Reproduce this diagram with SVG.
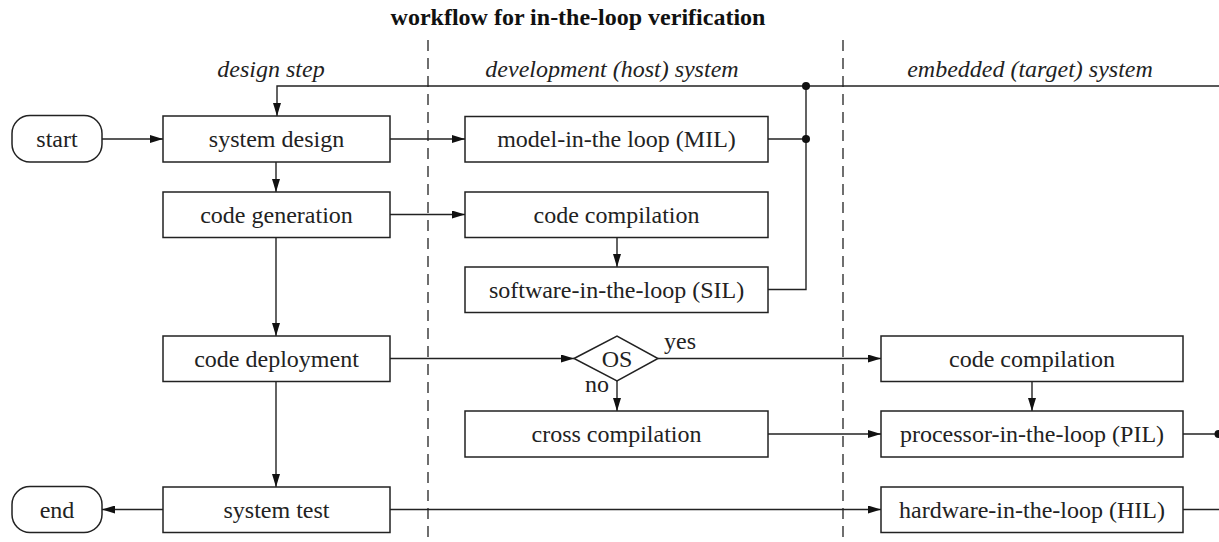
<svg xmlns="http://www.w3.org/2000/svg" width="1219" height="542" viewBox="0 0 1219 542">
  <style>
    .box { fill: #ffffff; stroke: #222222; stroke-width: 1.5; }
    .lbl { font-family: "Liberation Serif", "Times New Roman", serif; font-size: 24px; fill: #222222; text-anchor: middle; }
    .hdr { font-family: "Liberation Serif", "Times New Roman", serif; font-size: 24px; font-style: italic; fill: #222222; text-anchor: middle; }
    .title { font-family: "Liberation Serif", "Times New Roman", serif; font-size: 24px; font-weight: bold; fill: #111111; text-anchor: middle; }
    .lane { stroke: #222222; stroke-width: 1.3; stroke-dasharray: 11 7; fill: none; }
    .wire { stroke: #222222; stroke-width: 1.4; fill: none; }
    .arr { stroke: #222222; stroke-width: 1.4; fill: none; marker-end: url(#head); }
    .dot { fill: #111111; }
  </style>
  <defs>
    <marker id="head" viewBox="0 0 13 8" refX="13" refY="4" markerWidth="13" markerHeight="8" markerUnits="userSpaceOnUse" orient="auto">
      <path d="M0,0 L13,4 L0,8 Z" fill="#111111"/>
    </marker>
  </defs>

  <!-- title and swim-lane headers -->
  <text class="title" x="578" y="25">workflow for in-the-loop verification</text>
  <text class="hdr" x="271" y="77">design step</text>
  <text class="hdr" x="612" y="77">development (host) system</text>
  <text class="hdr" x="1030" y="77">embedded (target) system</text>

  <!-- lane separators -->
  <g id="lanes">
    <line class="lane" x1="428" y1="40" x2="428" y2="542"/>
    <line class="lane" x1="843" y1="40" x2="843" y2="542"/>
  </g>

  <!-- connectors -->
  <g id="connectors">
    <line class="arr" x1="102" y1="139" x2="163" y2="139"/>
    <line class="arr" x1="276" y1="162" x2="276" y2="192"/>
    <line class="arr" x1="276" y1="237.5" x2="276" y2="336"/>
    <line class="arr" x1="276" y1="381.5" x2="276" y2="487"/>
    <line class="arr" x1="163" y1="509.5" x2="102" y2="509.5"/>
    <line class="arr" x1="390" y1="139" x2="465" y2="139"/>
    <line class="arr" x1="390" y1="214.5" x2="465" y2="214.5"/>
    <line class="arr" x1="617" y1="237.5" x2="617" y2="267"/>
    <!-- feedback loop from MIL / SIL / PIL back to system design -->
    <polyline class="wire" points="768,139 806,139"/>
    <polyline class="wire" points="768,289.5 806,289.5 806,86"/>
    <line class="wire" x1="1219" y1="86" x2="806" y2="86"/>
    <polyline class="arr" points="806,86 277,86 277,116"/>
    <circle class="dot" cx="806" cy="86" r="4"/>
    <circle class="dot" cx="806" cy="139" r="4"/>
    <!-- deployment branch -->
    <line class="arr" x1="390" y1="358.5" x2="574" y2="358.5"/>
    <line class="arr" x1="658" y1="358.5" x2="881" y2="358.5"/>
    <line class="arr" x1="617" y1="381" x2="617" y2="411"/>
    <line class="arr" x1="768" y1="434" x2="881" y2="434"/>
    <line class="arr" x1="1032" y1="381.5" x2="1032" y2="411"/>
    <line class="wire" x1="1183" y1="434" x2="1219" y2="434"/>
    <circle class="dot" cx="1218.5" cy="434" r="4"/>
    <line class="arr" x1="390" y1="509.5" x2="881" y2="509.5"/>
    <line class="wire" x1="1183" y1="509.5" x2="1219" y2="509.5"/>
  </g>

  <!-- terminals -->
  <g id="start">
    <rect class="box" x="12" y="115.5" width="90" height="46.5" rx="18" ry="18"/>
    <text class="lbl" x="57" y="147">start</text>
  </g>
  <g id="end">
    <rect class="box" x="12" y="486.5" width="90" height="46" rx="18" ry="18"/>
    <text class="lbl" x="57" y="517.5">end</text>
  </g>

  <!-- design step column -->
  <g id="system-design">
    <rect class="box" x="163" y="116" width="227" height="46"/>
    <text class="lbl" x="276.5" y="147">system design</text>
  </g>
  <g id="code-generation">
    <rect class="box" x="163" y="192" width="227" height="45.5"/>
    <text class="lbl" x="276.5" y="222.5">code generation</text>
  </g>
  <g id="code-deployment">
    <rect class="box" x="163" y="336" width="227" height="45.5"/>
    <text class="lbl" x="276.5" y="366.5">code deployment</text>
  </g>
  <g id="system-test">
    <rect class="box" x="163" y="487" width="227" height="45.5"/>
    <text class="lbl" x="276.5" y="517.5">system test</text>
  </g>

  <!-- host system column -->
  <g id="mil">
    <rect class="box" x="465" y="116.5" width="303" height="45.5"/>
    <text class="lbl" x="616.5" y="147">model-in-the loop (MIL)</text>
  </g>
  <g id="host-compilation">
    <rect class="box" x="465" y="192" width="303" height="45.5"/>
    <text class="lbl" x="616.5" y="222.5">code compilation</text>
  </g>
  <g id="sil">
    <rect class="box" x="465" y="267" width="303" height="45.5"/>
    <text class="lbl" x="616.5" y="297.5">software-in-the-loop (SIL)</text>
  </g>
  <g id="os-decision">
    <polygon class="box" points="574,358.5 617,336 658,358.5 617,381"/>
    <text class="lbl" x="617" y="366.5">OS</text>
    <text class="lbl" x="680" y="349">yes</text>
    <text class="lbl" x="597" y="392">no</text>
  </g>
  <g id="cross-compilation">
    <rect class="box" x="465" y="411" width="303" height="46"/>
    <text class="lbl" x="616.5" y="442">cross compilation</text>
  </g>

  <!-- target system column -->
  <g id="target-compilation">
    <rect class="box" x="881" y="336" width="302" height="45.5"/>
    <text class="lbl" x="1032" y="366.5">code compilation</text>
  </g>
  <g id="pil">
    <rect class="box" x="881" y="411" width="302" height="46"/>
    <text class="lbl" x="1032" y="442">processor-in-the-loop (PIL)</text>
  </g>
  <g id="hil">
    <rect class="box" x="881" y="487" width="302" height="45.5"/>
    <text class="lbl" x="1032" y="517.5">hardware-in-the-loop (HIL)</text>
  </g>
</svg>
